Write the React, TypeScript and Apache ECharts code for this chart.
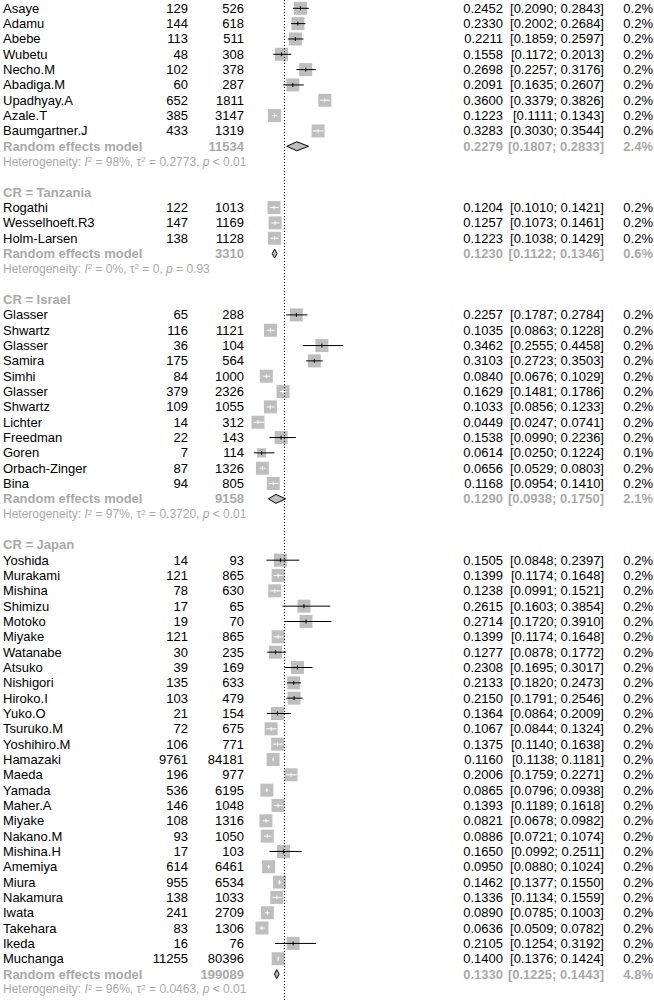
import React, { useEffect, useRef } from "react";
import * as echarts from "echarts";

// ---------- DATA ----------
// [study, events, total, proportion, lower, upper, weight %]
const ethiopiaStudies: [string, number, number, number, number, number, number][] = [
  ["Asaye", 129, 526, 0.2452, 0.209, 0.2843, 0.2],
  ["Adamu", 144, 618, 0.233, 0.2002, 0.2684, 0.2],
  ["Abebe", 113, 511, 0.2211, 0.1859, 0.2597, 0.2],
  ["Wubetu", 48, 308, 0.1558, 0.1172, 0.2013, 0.2],
  ["Necho.M", 102, 378, 0.2698, 0.2257, 0.3176, 0.2],
  ["Abadiga.M", 60, 287, 0.2091, 0.1635, 0.2607, 0.2],
  ["Upadhyay.A", 652, 1811, 0.36, 0.3379, 0.3826, 0.2],
  ["Azale.T", 385, 3147, 0.1223, 0.1111, 0.1343, 0.2],
  ["Baumgartner.J", 433, 1319, 0.3283, 0.303, 0.3544, 0.2],
];
// [total, proportion, lower, upper, weight %]
const ethiopiaPooled = [11534, 0.2279, 0.1807, 0.2833, 2.4];
// [I2, tau2, p]
const ethiopiaHet = ["98%", "0.2773", "< 0.01"];

const tanzaniaStudies: [string, number, number, number, number, number, number][] = [
  ["Rogathi", 122, 1013, 0.1204, 0.101, 0.1421, 0.2],
  ["Wesselhoeft.R3", 147, 1169, 0.1257, 0.1073, 0.1461, 0.2],
  ["Holm-Larsen", 138, 1128, 0.1223, 0.1038, 0.1429, 0.2],
];
const tanzaniaPooled = [3310, 0.123, 0.1122, 0.1346, 0.6];
const tanzaniaHet = ["0%", "0", "= 0.93"];

const israelStudies: [string, number, number, number, number, number, number][] = [
  ["Glasser", 65, 288, 0.2257, 0.1787, 0.2784, 0.2],
  ["Shwartz", 116, 1121, 0.1035, 0.0863, 0.1228, 0.2],
  ["Glasser", 36, 104, 0.3462, 0.2555, 0.4458, 0.2],
  ["Samira", 175, 564, 0.3103, 0.2723, 0.3503, 0.2],
  ["Simhi", 84, 1000, 0.084, 0.0676, 0.1029, 0.2],
  ["Glasser", 379, 2326, 0.1629, 0.1481, 0.1786, 0.2],
  ["Shwartz", 109, 1055, 0.1033, 0.0856, 0.1233, 0.2],
  ["Lichter", 14, 312, 0.0449, 0.0247, 0.0741, 0.2],
  ["Freedman", 22, 143, 0.1538, 0.099, 0.2236, 0.2],
  ["Goren", 7, 114, 0.0614, 0.025, 0.1224, 0.1],
  ["Orbach-Zinger", 87, 1326, 0.0656, 0.0529, 0.0803, 0.2],
  ["Bina", 94, 805, 0.1168, 0.0954, 0.141, 0.2],
];
const israelPooled = [9158, 0.129, 0.0938, 0.175, 2.1];
const israelHet = ["97%", "0.3720", "< 0.01"];

const japanStudies: [string, number, number, number, number, number, number][] = [
  ["Yoshida", 14, 93, 0.1505, 0.0848, 0.2397, 0.2],
  ["Murakami", 121, 865, 0.1399, 0.1174, 0.1648, 0.2],
  ["Mishina", 78, 630, 0.1238, 0.0991, 0.1521, 0.2],
  ["Shimizu", 17, 65, 0.2615, 0.1603, 0.3854, 0.2],
  ["Motoko", 19, 70, 0.2714, 0.172, 0.391, 0.2],
  ["Miyake", 121, 865, 0.1399, 0.1174, 0.1648, 0.2],
  ["Watanabe", 30, 235, 0.1277, 0.0878, 0.1772, 0.2],
  ["Atsuko", 39, 169, 0.2308, 0.1695, 0.3017, 0.2],
  ["Nishigori", 135, 633, 0.2133, 0.182, 0.2473, 0.2],
  ["Hiroko.I", 103, 479, 0.215, 0.1791, 0.2546, 0.2],
  ["Yuko.O", 21, 154, 0.1364, 0.0864, 0.2009, 0.2],
  ["Tsuruko.M", 72, 675, 0.1067, 0.0844, 0.1324, 0.2],
  ["Yoshihiro.M", 106, 771, 0.1375, 0.114, 0.1638, 0.2],
  ["Hamazaki", 9761, 84181, 0.116, 0.1138, 0.1181, 0.2],
  ["Maeda", 196, 977, 0.2006, 0.1759, 0.2271, 0.2],
  ["Yamada", 536, 6195, 0.0865, 0.0796, 0.0938, 0.2],
  ["Maher.A", 146, 1048, 0.1393, 0.1189, 0.1618, 0.2],
  ["Miyake", 108, 1316, 0.0821, 0.0678, 0.0982, 0.2],
  ["Nakano.M", 93, 1050, 0.0886, 0.0721, 0.1074, 0.2],
  ["Mishina.H", 17, 103, 0.165, 0.0992, 0.2511, 0.2],
  ["Amemiya", 614, 6461, 0.095, 0.088, 0.1024, 0.2],
  ["Miura", 955, 6534, 0.1462, 0.1377, 0.155, 0.2],
  ["Nakamura", 138, 1033, 0.1336, 0.1134, 0.1559, 0.2],
  ["Iwata", 241, 2709, 0.089, 0.0785, 0.1003, 0.2],
  ["Takehara", 83, 1306, 0.0636, 0.0509, 0.0782, 0.2],
  ["Ikeda", 16, 76, 0.2105, 0.1254, 0.3192, 0.2],
  ["Muchanga", 11255, 80396, 0.14, 0.1376, 0.1424, 0.2],
];
const japanPooled = [199089, 0.133, 0.1225, 0.1443, 4.8];
const japanHet = ["96%", "0.0463", "< 0.01"];

const groupLabels = [null, "CR = Tanzania", "CR = Israel", "CR = Japan"];
const referenceLine = 0.1745;

// ---------- LAYOUT / STYLE ----------
const W = 654;
const H = 1001;
const ROW0 = 8.3;
const PITCH = 15.33;
const FONT = "'Liberation Sans', Arial, Helvetica, sans-serif";
const GRAY_TEXT = "#a9a9a9";
const SQUARE = "#bebebe";
const BOX = 13;
const COL = { name: 3, events: 188, total: 244, est: 503, ci: 604, w: 653 };

type Row =
  | { kind: "header"; text: string }
  | { kind: "blank" }
  | { kind: "study"; s: [string, number, number, number, number, number, number] }
  | { kind: "pooled"; p: number[] }
  | { kind: "het"; h: string[] };

function buildRows(): Row[] {
  const groups = [
    [ethiopiaStudies, ethiopiaPooled, ethiopiaHet],
    [tanzaniaStudies, tanzaniaPooled, tanzaniaHet],
    [israelStudies, israelPooled, israelHet],
    [japanStudies, japanPooled, japanHet],
  ] as const;
  const rows: Row[] = [];
  groups.forEach((g, gi) => {
    const label = groupLabels[gi];
    if (gi > 0) rows.push({ kind: "blank" });
    if (label) rows.push({ kind: "header", text: label });
    (g[0] as any[]).forEach((s) => rows.push({ kind: "study", s }));
    rows.push({ kind: "pooled", p: g[1] as number[] });
    rows.push({ kind: "het", h: g[2] as string[] });
  });
  return rows;
}

export default function App() {
  const ref = useRef<HTMLDivElement>(null);
  useEffect(() => {
    document.body.style.margin = "0";
    if (!ref.current) return;
    const chart = echarts.init(ref.current, null, { renderer: "svg", width: W, height: H });
    const rows = buildRows();

    const studyData: number[][] = [];
    const pooledData: number[][] = [];
    rows.forEach((r, i) => {
      if (r.kind === "study") studyData.push([i, r.s[3], r.s[4], r.s[5], r.s[6]]);
      if (r.kind === "pooled") pooledData.push([i, r.p[1], r.p[2], r.p[3]]);
    });
    const textData = rows.map((_, i) => [i]);

    const txt = (x: number, y: number, text: string, align: string, opts: any = {}) => ({
      type: "text",
      x,
      y,
      silent: true,
      style: {
        text,
        fill: opts.fill || "#000",
        fontSize: opts.fontSize || 13,
        fontWeight: opts.bold ? "bold" : "normal",
        fontFamily: FONT,
        align,
        verticalAlign: "middle",
        rich: opts.rich,
      },
    });

    const option: any = {
      animation: false,
      grid: { left: 248.5, width: 212, top: 0, height: H },
      xAxis: { type: "value", min: 0, max: 1, show: false },
      yAxis: {
        type: "value",
        inverse: true,
        min: -ROW0 / PITCH,
        max: (H - ROW0) / PITCH,
        show: false,
      },
      series: [
        {
          type: "custom",
          name: "text",
          data: textData,
          clip: false,
          silent: true,
          renderItem: (params: any, api: any) => {
            const i = api.value(0);
            const r = rows[i];
            const y = api.coord([0, i])[1];
            const children: any[] = [];
            if (r.kind === "header") {
              children.push(txt(COL.name, y, r.text, "left", { bold: true, fill: GRAY_TEXT }));
            } else if (r.kind === "study") {
              const s = r.s;
              children.push(txt(COL.name, y, s[0], "left"));
              children.push(txt(COL.events, y, String(s[1]), "right"));
              children.push(txt(COL.total, y, String(s[2]), "right"));
              children.push(txt(COL.est, y, s[3].toFixed(4), "right"));
              children.push(txt(COL.ci, y, `[${s[4].toFixed(4)}; ${s[5].toFixed(4)}]`, "right"));
              children.push(txt(COL.w, y, `${s[6].toFixed(1)}%`, "right"));
            } else if (r.kind === "pooled") {
              const p = r.p;
              const o = { bold: true, fill: GRAY_TEXT };
              children.push(txt(COL.name, y, "Random effects model", "left", o));
              children.push(txt(COL.total, y, String(p[0]), "right", o));
              children.push(txt(COL.est, y, p[1].toFixed(4), "right", o));
              children.push(txt(COL.ci, y, `[${p[2].toFixed(4)}; ${p[3].toFixed(4)}]`, "right", o));
              children.push(txt(COL.w, y, `${p[4].toFixed(1)}%`, "right", o));
            } else if (r.kind === "het") {
              const h = r.h;
              const text = `Heterogeneity: {it|I}{sup|2} = ${h[0]}, τ{sup|2} = ${h[1]}, {it|p} ${h[2]}`;
              children.push(
                txt(COL.name, y, text, "left", {
                  fill: GRAY_TEXT,
                  fontSize: 12,
                  rich: {
                    it: { fontStyle: "italic", fontSize: 12, fontFamily: FONT, fill: GRAY_TEXT },
                    sup: { fontSize: 8, fontFamily: FONT, fill: GRAY_TEXT, verticalAlign: "top", padding: [0, 0, 3, 0] },
                  },
                })
              );
            }
            return { type: "group", children };
          },
          markLine: {
            silent: true,
            symbol: ["none", "none"],
            label: { show: false },
            lineStyle: { color: "#000", width: 1, type: [1, 2] },
            data: [{ xAxis: referenceLine }],
          },
        },
        {
          type: "custom",
          name: "studies",
          data: studyData,
          clip: false,
          silent: true,
          renderItem: (params: any, api: any) => {
            const row = api.value(0);
            const est = api.value(1);
            const lo = api.value(2);
            const hi = api.value(3);
            const w = api.value(4);
            const [cx, cy] = api.coord([est, row]);
            const xl = api.coord([lo, row])[0];
            const xh = api.coord([hi, row])[0];
            const s = BOX * Math.sqrt(w / 0.2);
            const inside = xl >= cx - s / 2 && xh <= cx + s / 2;
            const lc = inside ? "#ffffff" : "#000000";
            return {
              type: "group",
              children: [
                { type: "rect", shape: { x: cx - s / 2, y: cy - s / 2, width: s, height: s }, style: { fill: SQUARE } },
                { type: "line", shape: { x1: xl, y1: cy, x2: xh, y2: cy }, style: { stroke: lc, lineWidth: 1 } },
                { type: "line", shape: { x1: cx, y1: cy - 2, x2: cx, y2: cy + 2 }, style: { stroke: lc, lineWidth: 1 } },
              ],
            };
          },
        },
        {
          type: "custom",
          name: "pooled",
          data: pooledData,
          clip: false,
          silent: true,
          renderItem: (params: any, api: any) => {
            const row = api.value(0);
            const [cx, cy] = api.coord([api.value(1), row]);
            const xl = api.coord([api.value(2), row])[0];
            const xh = api.coord([api.value(3), row])[0];
            return {
              type: "polygon",
              shape: { points: [[xl, cy], [cx, cy - 4.5], [xh, cy], [cx, cy + 4.5]] },
              style: { fill: SQUARE, stroke: "#000", lineWidth: 1 },
            };
          },
        },
      ],
    };
    chart.setOption(option);
    return () => chart.dispose();
  }, []);
  return <div ref={ref} style={{ width: W, height: H, background: "#fff" }} />;
}
